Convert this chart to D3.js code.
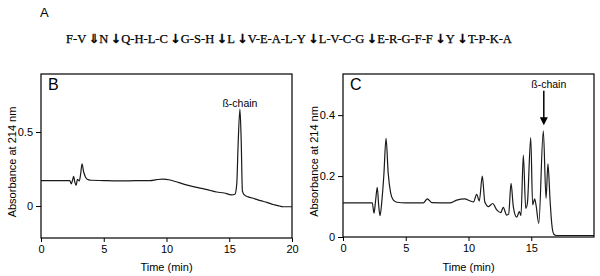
<!DOCTYPE html>
<html>
<head>
<meta charset="utf-8">
<script src="https://cdn.jsdelivr.net/npm/d3@7"></script>
<style>
  body { margin: 0; background: #fff; }
  svg { display: block; }
  text { font-family: "Liberation Sans", Arial, sans-serif; }
</style>
</head>
<body>
<svg id="chart" width="600" height="276"></svg>
<script>
// peptide sequence fragments and the cleavage arrows between them
const fragments = ["F-V", "N", "Q-H-L-C", "G-S-H", "L", "V-E-A-L-Y", "L-V-C-G", "E-R-G-F-F", "Y", "T-P-K-A"];
const cuts = ["\u21D3", "\u2193", "\u2193", "\u2193", "\u2193", "\u2193", "\u2193", "\u2193", "\u2193"];

// panel B trace (time in min, absorbance)
const timeB = [0, 2.3, 2.4, 2.5, 2.6, 2.7, 2.8, 2.9, 3.05, 3.15, 3.27, 3.4, 3.55, 3.75, 4.0, 5, 6, 7, 8, 8.7,
  9.2, 9.7, 10.3, 11.0, 11.5, 12.3, 12.9, 13.5, 14.0, 14.6, 15.2, 15.45, 15.6, 15.7, 15.85, 15.95, 16.05, 16.2, 16.5, 17.0,
  17.5, 18.0, 18.5, 19.0, 19.3, 20];
const absB = [0.172, 0.172, 0.15, 0.17, 0.2, 0.16, 0.14, 0.18, 0.17, 0.21, 0.285, 0.23, 0.195, 0.178, 0.174, 0.172, 0.17, 0.17, 0.172, 0.172,
  0.178, 0.182, 0.176, 0.158, 0.145, 0.128, 0.118, 0.105, 0.095, 0.088, 0.075, 0.08, 0.15, 0.4, 0.655, 0.45, 0.1, 0.075, 0.062, 0.05,
  0.036, 0.025, 0.01, 0.0, -0.005, -0.005];

// panel C trace
const timeC = [0, 2.33, 2.47, 2.6, 2.73, 2.85, 2.95, 3.1, 3.25, 3.43, 3.6, 3.8, 4.0, 4.3, 5, 6.4, 6.72, 7.07, 8.5, 9.06,
  9.7, 10.1, 10.4, 10.65, 10.86, 11.1, 11.3, 11.6, 11.93, 12.25, 12.57, 12.77, 13.04, 13.2, 13.39, 13.57, 13.84, 14.05, 14.18, 14.37,
  14.56, 14.69, 14.96, 15.11, 15.27, 15.38, 15.6, 15.96, 16.18, 16.33, 16.5, 16.63, 16.8, 17.0, 20];
const absC = [0.112, 0.112, 0.078, 0.12, 0.163, 0.1, 0.07, 0.12, 0.2, 0.324, 0.21, 0.144, 0.122, 0.114, 0.112, 0.112, 0.125, 0.113, 0.112, 0.121,
  0.125, 0.119, 0.115, 0.14, 0.118, 0.2, 0.115, 0.1, 0.11, 0.089, 0.08, 0.097, 0.072, 0.075, 0.176, 0.1, 0.065, 0.083, 0.07, 0.269,
  0.094, 0.11, 0.326, 0.105, 0.125, 0.105, 0.045, 0.348, 0.127, 0.24, 0.12, 0.045, 0.009, 0.005, 0.005];

const ticksXB = [0, 5, 10, 15, 20];
const ticksYB = [0, 0.5];
const ticksXC = [0, 5, 10, 15];
const ticksYC = [0, 0.2, 0.4];

const svg = d3.select("#chart");

// header
svg.append("text")
  .attr("x", 40).attr("y", 17)
  .style("font-size", "13px")
  .text("A");

// sequence line, sized to span the reference width
const seqWidth = 446;
const seq = svg.append("text")
  .attr("x", 66).attr("y", 43)
  .style("font-family", "'Liberation Serif', 'Times New Roman', serif")
  .style("font-size", "14px")
  .style("stroke", "#000")
  .style("stroke-width", 0.25);

fragments.forEach((f, i) => {
  seq.append("tspan").text(f);
  if (i < cuts.length) {
    seq.append("tspan")
      .attr("class", "cut")
      .style("font-family", "'DejaVu Sans', sans-serif")
      .style("font-weight", "bold")
      .text("\u2009" + cuts[i]);
  }
});
const natural = seq.node().getComputedTextLength();
seq.style("font-size", (14 * seqWidth / natural).toFixed(2) + "px");

function drawPanel(opts) {
  const { id, left, right, top, bottom, xDomain, yDomain, time, abs, xTicks, yTicks, letter } = opts;
  const x = d3.scaleLinear().domain(xDomain).range([left, right]);
  const y = d3.scaleLinear().domain(yDomain).range([bottom, top]);
  const g = svg.append("g");

  g.append("clipPath").attr("id", "clip-" + id)
    .append("rect")
    .attr("x", left).attr("y", top)
    .attr("width", right - left).attr("height", bottom - top);

  const fmt = d => d === 0 ? "0" : d3.format(".1f")(d);

  g.append("g")
    .attr("transform", `translate(0,${bottom})`)
    .call(d3.axisBottom(x).tickValues(xTicks).tickSize(4).tickSizeOuter(0).tickPadding(3))
    .call(a => a.select(".domain").remove())
    .call(a => a.selectAll("text").style("font-size", "11px").style("font-family", "'Liberation Sans', Arial, sans-serif"));

  g.append("g")
    .attr("transform", `translate(${left},0)`)
    .call(d3.axisLeft(y).tickValues(yTicks).tickFormat(fmt).tickSize(5).tickSizeOuter(0).tickPadding(3))
    .call(a => a.select(".domain").remove())
    .call(a => a.selectAll("text").style("font-size", "11px").style("font-family", "'Liberation Sans', Arial, sans-serif"));

  // frame
  g.append("rect")
    .attr("x", left).attr("y", top)
    .attr("width", right - left).attr("height", bottom - top)
    .attr("fill", "none").attr("stroke", "#000").attr("stroke-width", 1.2);

  const pts = time.map((t, i) => ({ t: t, v: abs[i] }));
  const line = d3.line()
    .x(d => x(d.t))
    .y(d => y(d.v))
    .curve(d3.curveMonotoneX);

  g.append("path")
    .datum(pts)
    .attr("clip-path", `url(#clip-${id})`)
    .attr("fill", "none")
    .attr("stroke", "#1a1a1a")
    .attr("stroke-width", 1.2)
    .attr("d", line);

  g.append("text")
    .attr("x", left + 7).attr("y", top + 16)
    .style("font-size", "16px")
    .text(letter);

  g.append("text")
    .attr("x", (left + right) / 2).attr("y", 271)
    .attr("text-anchor", "middle")
    .style("font-size", "11px")
    .text("Time (min)");

  g.append("text")
    .attr("transform", `translate(${left - 25},${(top + bottom) / 2 + 6}) rotate(-90)`)
    .attr("text-anchor", "middle")
    .style("font-size", "11px")
    .text("Absorbance at 214 nm");

  return { x, y, g };
}

const pB = drawPanel({
  id: "b", left: 41, right: 292, top: 74, bottom: 238,
  xDomain: [0, 20], yDomain: [-0.216, 0.892],
  time: timeB, abs: absB, xTicks: ticksXB, yTicks: ticksYB, letter: "B"
});

const pC = drawPanel({
  id: "c", left: 343, right: 594, top: 74, bottom: 237,
  xDomain: [0, 20], yDomain: [0, 0.535],
  time: timeC, abs: absC, xTicks: ticksXC, yTicks: ticksYC, letter: "C"
});

// B: peak label
const peakB = 15.85;
pB.g.append("text")
  .attr("x", pB.x(peakB)).attr("y", pB.y(0.655) - 2)
  .attr("text-anchor", "middle")
  .style("font-size", "10.5px")
  .text("\u00DF-chain");

// C: arrow and label
const peakC = 16.0;
const ax = pC.x(peakC);
const yTop = pC.y(0.48), yTip = pC.y(0.367);
pC.g.append("line")
  .attr("x1", ax).attr("x2", ax)
  .attr("y1", yTop).attr("y2", yTip - 6)
  .attr("stroke", "#000").attr("stroke-width", 1.5);
pC.g.append("path")
  .attr("d", `M${ax - 4},${yTip - 8}L${ax + 4},${yTip - 8}L${ax},${yTip}Z`)
  .attr("fill", "#000");
pC.g.append("text")
  .attr("x", ax + 5).attr("y", yTop - 3)
  .attr("text-anchor", "middle")
  .style("font-size", "10.5px")
  .text("\u00DF-chain");
</script>
</body>
</html>
